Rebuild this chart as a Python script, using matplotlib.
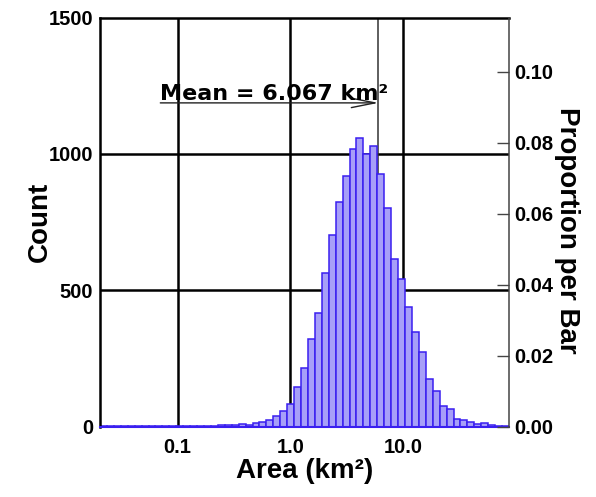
import numpy as np
import matplotlib
matplotlib.use("Agg")
import matplotlib.pyplot as plt

# ---- data ----
x_min, x_max = 0.02046, 87.4          # range of the binned areas (km^2)
counts = [1, 1, 1, 1, 1, 1, 1, 1, 2, 1, 2, 2, 2, 3, 3, 4, 4, 5,
          6, 6, 10, 7, 15, 17, 26, 39, 57, 82, 144, 217, 322, 417,
          565, 704, 822, 918, 1019, 1057, 1000, 1030, 925, 800, 616,
          543, 438, 346, 272, 175, 131, 75, 66, 30, 23, 16, 11, 12,
          5, 4, 4]
mean_area = 6.067
count_ticks = [0, 500, 1000, 1500]
prop_ticks = [0.00, 0.02, 0.04, 0.06, 0.08, 0.10]
x_ticks = [0.1, 1.0, 10.0]
x_ticklabels = ["0.1", "1.0", "10.0"]

N = sum(counts)
edges = np.logspace(np.log10(x_min), np.log10(x_max), len(counts) + 1)

face = "#a79ff8"
edge = "#3a1ff0"
lab_font = "Liberation Sans"
tick_fs = 14.5

fig = plt.figure(figsize=(5.96, 4.97), dpi=100)
ax = fig.add_axes([100/596, 70.3/497, 409/596, 409.2/497])
ax.set_xscale("log")
ax.set_xlim(x_min, x_max)
ax.set_ylim(0, 1500)

# grid lines (under bars)
for xv in x_ticks:
    ax.axvline(xv, color="black", lw=1.8, zorder=1)
for yv in count_ticks[1:-1]:
    ax.axhline(yv, color="black", lw=1.8, zorder=1)
ax.axvline(mean_area, color="#333333", lw=1.1, zorder=1)

ax.bar(edges[:-1], counts, width=np.diff(edges), align="edge",
       color=face, edgecolor=edge, linewidth=1.1, zorder=2)

ax.set_xticks(x_ticks)
ax.set_xticklabels(x_ticklabels)
ax.xaxis.set_minor_locator(matplotlib.ticker.NullLocator())
ax.set_yticks(count_ticks)
ax.tick_params(axis="both", length=0)
ax.tick_params(axis="x", pad=8)
ax.tick_params(axis="y", pad=5)
for t in ax.get_xticklabels() + ax.get_yticklabels():
    t.set_fontfamily(lab_font)
    t.set_fontweight("bold")
    t.set_fontsize(tick_fs)

ax.spines["left"].set_linewidth(1.8)
ax.spines["top"].set_linewidth(1.8)
ax.spines["bottom"].set_color(edge)
ax.spines["bottom"].set_linewidth(1.5)
ax.spines["right"].set_visible(False)

ax.set_xlabel("Area (km²)", fontfamily=lab_font, fontweight="bold",
              fontsize=20, labelpad=1)
ax.set_ylabel("Count", fontfamily=lab_font, fontweight="bold",
              fontsize=20, labelpad=-3)

# right proportion axis
ax2 = ax.twinx()
ax2.set_ylim(0, 1500 / N)
ax2.set_yticks(prop_ticks)
ax2.set_yticklabels([f"{v:.2f}" for v in prop_ticks])
ax2.tick_params(axis="y", direction="in", length=8.5, width=1.0,
                color="#444444", pad=4)
for t in ax2.get_yticklabels():
    t.set_fontfamily(lab_font)
    t.set_fontweight("bold")
    t.set_fontsize(tick_fs)
for s in ["left", "top", "bottom"]:
    ax2.spines[s].set_visible(False)
ax2.spines["right"].set_color("#444444")
ax2.spines["right"].set_linewidth(1.1)
ax2.set_ylabel("Proportion per Bar", fontfamily=lab_font, fontweight="bold",
               fontsize=20, rotation=270, labelpad=0, va="bottom")
ax2.yaxis.label.set_y(0.48)

# mean annotation
arrow_y = 1187
ax.annotate("", xy=(mean_area, arrow_y), xytext=(0.0702, arrow_y),
            arrowprops=dict(arrowstyle="->,head_length=0.85,head_width=0.17",
                            color="#222222", lw=1.0,
                            mutation_scale=20, shrinkA=0, shrinkB=0),
            zorder=5)
ax.text(0.0702, arrow_y + 10, "Mean = 6.067 km²", fontfamily="DejaVu Sans",
        fontweight="bold", fontsize=16, ha="left", va="baseline", zorder=5)

fig.savefig("out.png", dpi=100)
